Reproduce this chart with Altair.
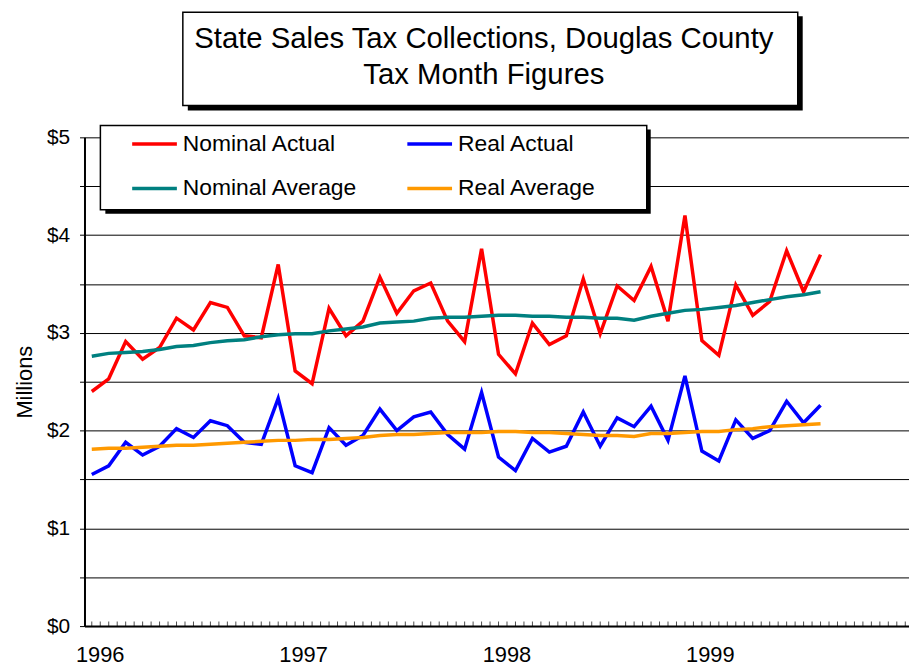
import altair as alt
import pandas as pd

FONT = "Liberation Sans"
START_YEAR = 1996

series_names = ["Nominal Actual", "Nominal Average", "Real Actual", "Real Average"]
series_colors = ["#FF0000", "#008080", "#0000FF", "#FF9900"]

# monthly values, Jan 1996 .. Aug 1999 (millions of dollars)
nominal_actual = [2.40, 2.53, 2.91, 2.73, 2.85, 3.15, 3.03, 3.31, 3.26, 2.97,
                  2.95, 3.70, 2.61, 2.48, 3.25, 2.97, 3.12, 3.57, 3.20, 3.43,
                  3.51, 3.12, 2.91, 3.86, 2.78, 2.58, 3.10, 2.88, 2.97, 3.55,
                  2.99, 3.48, 3.33, 3.68, 3.12, 4.20, 2.92, 2.77, 3.49, 3.18,
                  3.32, 3.84, 3.42, 3.80]
real_actual = [1.55, 1.64, 1.88, 1.75, 1.84, 2.02, 1.93, 2.10, 2.05, 1.88,
               1.86, 2.33, 1.64, 1.57, 2.03, 1.85, 1.95, 2.22, 2.00, 2.14,
               2.19, 1.96, 1.81, 2.39, 1.73, 1.59, 1.92, 1.78, 1.84, 2.19,
               1.84, 2.13, 2.04, 2.25, 1.90, 2.56, 1.79, 1.69, 2.11, 1.92,
               2.00, 2.30, 2.08, 2.26]
nominal_average = [2.76, 2.79, 2.80, 2.81, 2.83, 2.86, 2.87, 2.90, 2.92, 2.93,
                   2.96, 2.98, 2.99, 2.99, 3.02, 3.04, 3.06, 3.10, 3.11, 3.12,
                   3.15, 3.16, 3.16, 3.17, 3.18, 3.18, 3.17, 3.17, 3.16, 3.16,
                   3.15, 3.15, 3.13, 3.17, 3.20, 3.23, 3.24, 3.26, 3.28, 3.31,
                   3.34, 3.37, 3.39, 3.42]
real_average = [1.81, 1.82, 1.82, 1.83, 1.84, 1.85, 1.85, 1.86, 1.87, 1.88,
                1.89, 1.90, 1.90, 1.91, 1.91, 1.92, 1.93, 1.95, 1.96, 1.96,
                1.97, 1.98, 1.98, 1.98, 1.99, 1.99, 1.98, 1.98, 1.97, 1.96,
                1.95, 1.95, 1.94, 1.97, 1.97, 1.98, 1.99, 1.99, 2.01, 2.02,
                2.04, 2.05, 2.06, 2.07]

year_label_months = [0, 12, 24, 36]          # 1996, 1997, 1998, 1999
y_tick_values = [0, 0.5, 1, 1.5, 2, 2.5, 3, 3.5, 4, 4.5, 5]
minor_tick_months = [k * 0.5 for k in range(0, 97)]

title_lines = ["State Sales Tax Collections, Douglas County", "Tax Month Figures"]

def long_df(names, arrays):
    rows = []
    for n, arr in zip(names, arrays):
        for i, v in enumerate(arr):
            rows.append({"month": i, "value": v, "series": n})
    return pd.DataFrame(rows)

actual_df = long_df(["Nominal Actual", "Real Actual"], [nominal_actual, real_actual])
average_df = long_df(["Nominal Average", "Real Average"], [nominal_average, real_average])
ticks_df = pd.DataFrame({"month": minor_tick_months, "value": [0] * len(minor_tick_months)})

xscale = alt.Scale(domain=[-0.43, 48.22], nice=False, zero=False)
yscale = alt.Scale(domain=[0, 5], nice=False, zero=True)

x_axis = alt.Axis(values=year_label_months,
                  labelExpr=f"'' + ({START_YEAR} + datum.value / 12)",
                  ticks=False, grid=False, domainColor="black", domainWidth=2,
                  labelFont=FONT, labelFontSize=22, labelColor="black",
                  labelPadding=19, labelOffset=8, labelFlush=False,
                  labelOverlap=False, title=None)
y_axis = alt.Axis(values=y_tick_values,
                  labelExpr="datum.value % 1 == 0 ? '$' + datum.value : ''",
                  grid=True, gridColor="black", gridWidth=1,
                  tickColor="black", tickSize=5, tickWidth=1,
                  domainColor="black", domainWidth=2,
                  labelFont=FONT, labelFontSize=21, labelColor="black",
                  labelPadding=10, labelOverlap=False,
                  title="Millions", titleFont=FONT, titleFontSize=22,
                  titleFontWeight="normal", titleColor="black", titlePadding=10)

X = alt.X("month:Q", scale=xscale, axis=x_axis)
Y = alt.Y("value:Q", scale=yscale, axis=y_axis)

color = alt.Color("series:N",
                  scale=alt.Scale(domain=series_names, range=series_colors),
                  legend=alt.Legend(orient="none", legendX=46, legendY=-18,
                                    columns=2, title=None, symbolType="stroke",
                                    symbolSize=2025, symbolStrokeWidth=3.5,
                                    labelFont=FONT, labelFontSize=23,
                                    labelColor="black", labelLimit=400,
                                    labelOffset=4, columnPadding=42,
                                    rowPadding=8, padding=0))

one = alt.Data(values=[{"k": 0}])

def box(x1, x2, y1, y2, fill, stroke=None):
    kw = dict(fill=fill)
    if stroke:
        kw.update(stroke=stroke, strokeWidth=1.5)
    return alt.Chart(one).mark_rect(**kw).encode(
        x=alt.value(x1), x2=alt.value(x2), y=alt.value(y1), y2=alt.value(y2))

title_shadow = box(104, 723, -122, -27, "black")
title_box = box(99, 718, -126, -32, "white", "black")
legend_shadow = box(21, 570, -8, 77, "black")
legend_box = box(16, 566, -12, 73, "white", "black")

ticks = alt.Chart(ticks_df).mark_tick(orient="vertical", size=9, thickness=1,
                                      color="black", clip=True).encode(x=X, y=Y)

actual_lines = alt.Chart(actual_df).mark_line(strokeWidth=3.5).encode(
    x=X, y=Y, color=color)
average_lines = alt.Chart(average_df).mark_line(strokeWidth=3.5).encode(
    x=X, y=Y, color=color)

chart = alt.layer(
    ticks, actual_lines, average_lines,
    title_shadow, title_box, legend_shadow, legend_box
).properties(
    width=830, height=492,
    title=alt.Title(title_lines, font=FONT, fontSize=29.5, fontWeight="normal",
                    color="black", anchor="middle", frame="group", dx=-13,
                    offset=-80, lineHeight=37),
    autosize=alt.AutoSizeParams(type="none"),
    padding={"left": 77, "top": 128, "right": 0, "bottom": 42},
).configure_view(stroke=None)

chart.save("out.html", embed_options={"renderer": "svg", "actions": False})
